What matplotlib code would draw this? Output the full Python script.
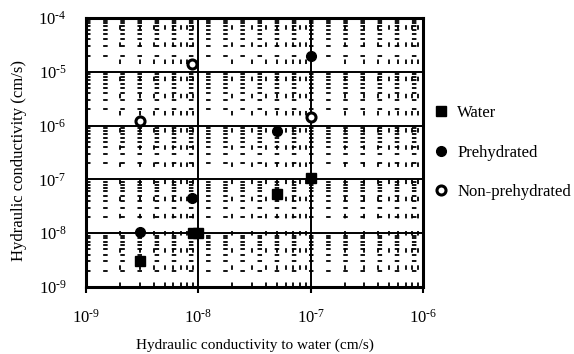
import numpy as np
import matplotlib.pyplot as plt
from matplotlib.ticker import FuncFormatter

plt.rcParams['font.family'] = ['Liberation Serif', 'DejaVu Serif']
plt.rcParams['mathtext.fontset'] = 'custom'
plt.rcParams['mathtext.rm'] = 'Liberation Serif'
plt.rcParams['axes.unicode_minus'] = False

# data (cm/s)
water_x = [3e-9, 9e-9, 1e-8, 5e-8, 1e-7]
water_y = [3e-9, 1e-8, 1e-8, 5.3e-8, 1.05e-7]
prehyd_x = [3e-9, 8.8e-9, 5e-8, 1e-7]
prehyd_y = [1.04e-8, 4.6e-8, 7.8e-7, 2e-5]
nonpre_x = [3e-9, 8.8e-9, 1e-7]
nonpre_y = [1.23e-6, 1.38e-5, 1.43e-6]

fig = plt.figure(figsize=(5.74, 3.54), dpi=100)
ax = fig.add_axes([0.1498, 0.1893, 0.5872, 0.7597])

ax.plot(water_x, water_y, 's', color='black', ms=6.5, label='Water', zorder=5)
ax.plot(prehyd_x, prehyd_y, 'o', color='black', ms=7, label='Prehydrated', zorder=5)
ax.plot(nonpre_x, nonpre_y, 'o', mfc='white', mec='black', mew=2.2, ms=6.5,
        label='Non-prehydrated', zorder=5)

ax.set_xscale('log')
ax.set_yscale('log')
ax.set_xlim(1e-9, 1e-6)
ax.set_ylim(1e-9, 1e-4)

ax.grid(True, which='major', color='black', lw=1.4, ls='-')
ax.grid(True, which='minor', color='black', lw=1.3, ls=(0, (2.5, 7)))
ax.set_axisbelow(True)

for s in ax.spines.values():
    s.set_linewidth(2.2)

# "10" with a plain hyphen in the exponent, as in the original
pow_fmt = FuncFormatter(lambda v, p: r'$\mathregular{10^{\text{-}%d}}$' % abs(round(np.log10(v))))
ax.xaxis.set_major_formatter(pow_fmt)
ax.yaxis.set_major_formatter(pow_fmt)

ax.tick_params(which='major', direction='out', length=4, width=1.5, labelsize=12)
ax.tick_params(axis='x', pad=12)
ax.tick_params(axis='y', length=0, pad=14)
ax.tick_params(which='minor', length=0)

ax.set_xlabel('Hydraulic conductivity to water (cm/s)', fontsize=11, labelpad=8)
ax.set_ylabel('Hydraulic conductivity (cm/s)', fontsize=12)
ax.yaxis.set_label_coords(-0.174, 0.47)

ax.legend(loc='center left', bbox_to_anchor=(0.985, 0.5), frameon=False,
          fontsize=12, labelspacing=1.4, handletextpad=0.45, handlelength=1.0)

fig.savefig('out.png', dpi=100)
